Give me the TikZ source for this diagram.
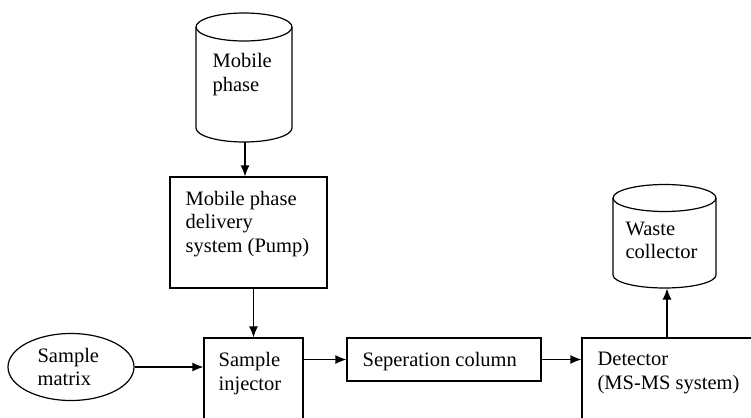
\documentclass[tikz,border=0pt]{standalone}
\usepackage{fontspec}
\setmainfont{Liberation Serif}
\usetikzlibrary{arrows.meta,shapes.geometric}
\begin{document}
\begin{tikzpicture}[x=1pt,y=-1pt,
  line width=1.2pt,
  txt/.style={inner sep=0pt, anchor=base west, align=left, font=\fontsize{20.5}{23.5}\selectfont},
  box/.style={draw, inner sep=0pt},
  holder/.style={inner sep=0pt, outer sep=0pt},
  arr/.style={-{Latex[length=11pt,width=9pt]}}]
\useasboundingbox (0,0) rectangle (751,417);
\begin{scope}
\clip (0,0) rectangle (751,417);
% Mobile phase cylinder
\node[holder, minimum width=96pt, minimum height=129pt] (mp) at (244,77.5) {};
\draw (244,27) ellipse [x radius=48, y radius=14];
\draw (196,27) -- (196,128) arc (180:0:48 and 14) -- (292,27);
\node[txt] (mpt) at (212,91.5) {Mobile\\phase};
% Pump
\node[box, minimum width=157pt, minimum height=111pt] (pump) at (248.5,232.5) {};
\node[txt] (pumpt) at (185,252) {Mobile phase\\delivery\\system (Pump)};
% Sample matrix
\node[draw, ellipse, inner sep=0pt, minimum width=126pt, minimum height=67pt] (sm) at (71,367) {};
\node[txt] (smt) at (37,385.5) {Sample\\matrix};
% Injector
\node[box, minimum width=99pt, minimum height=102pt] (inj) at (253.5,389) {};
\node[txt] (injt) at (218,390) {Sample\\injector};
% Separation column
\node[box, minimum width=194pt, minimum height=43pt] (sep) at (444,359.5) {};
\node[txt] (sept) at (362,366) {Seperation column};
% Detector
\node[box, minimum width=188pt, minimum height=102pt] (det) at (676,389) {};
\node[txt] (dett) at (597,389) {Detector\\(MS-MS system)};
% Waste collector cylinder
\node[holder, minimum width=103pt, minimum height=104pt] (wc) at (664.5,236.5) {};
\draw (664.5,198) ellipse [x radius=51.5, y radius=13.5];
\draw (613,198) -- (613,275) arc (180:0:51.5 and 13) -- (716,198);
\node[txt] (wct) at (625,258.5) {Waste\\collector};
% Connectors
\draw[arr] ([xshift=1pt]mp.south) -- ([xshift=1pt]mp.south |- pump.north);
\draw[arr] (inj.north |- pump.south) -- (inj.north);
\draw[arr] (sm.east) -- (sm.east -| inj.west);
\draw[arr] (inj.east |- sep.west) -- (sep.west);
\draw[arr] (sep.east) -- (sep.east -| det.west);
\draw[arr] ([xshift=2.5pt]wc.south |- det.north) -- ([xshift=2.5pt]wc.south);
\end{scope}
\end{tikzpicture}
\end{document}
